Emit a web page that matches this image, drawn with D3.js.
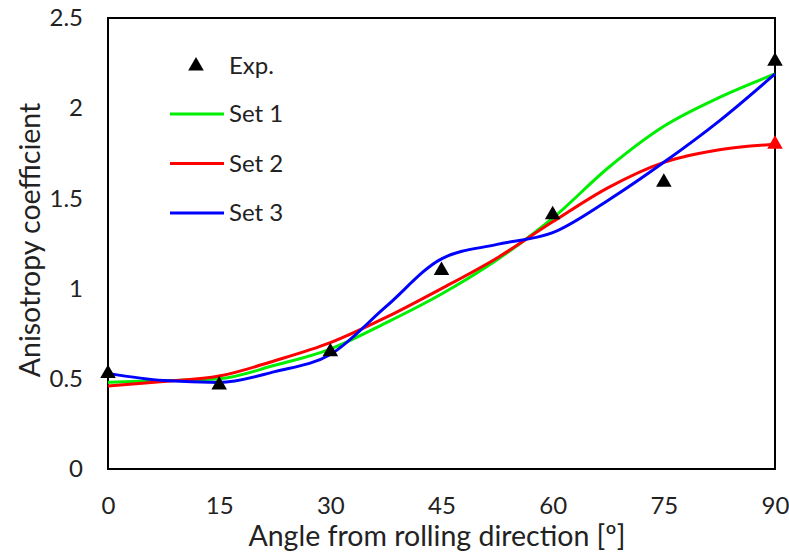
<!DOCTYPE html>
<html>
<head>
<meta charset="utf-8">
<script src="https://cdn.jsdelivr.net/npm/d3@7"></script>
<style>
  body { margin: 0; background: #fff; }
  svg text { font-family: Lato, "Open Sans", sans-serif; fill: #222; }
</style>
</head>
<body>
<div id="chart"></div>
<script>
// angles along the fitted curves (deg)
const angles = [0, 7.5, 15, 22.5, 30, 37.5, 45, 52.5, 60, 67.5, 75, 82.5, 90];
const set1 = [0.48, 0.49, 0.50, 0.575, 0.665, 0.81, 0.97, 1.16, 1.39, 1.67, 1.90, 2.06, 2.19];
const set2 = [0.46, 0.485, 0.515, 0.60, 0.70, 0.84, 1.00, 1.17, 1.37, 1.56, 1.70, 1.77, 1.80];
const set3 = [0.53, 0.49, 0.48, 0.54, 0.635, 0.90, 1.165, 1.245, 1.31, 1.49, 1.70, 1.93, 2.19];

// experimental points
const expAngles = [0, 15, 30, 45, 60, 75, 90];
const expValues = [0.53, 0.465, 0.65, 1.10, 1.41, 1.59, 2.26];

const xTicks = [0, 15, 30, 45, 60, 75, 90];
const yTicks = [0, 0.5, 1, 1.5, 2, 2.5];
const seriesNames = ["Set 1", "Set 2", "Set 3"];
const seriesColors = ["#00ee00", "#ff0000", "#0000ff"];

const width = 789, height = 552;
const margin = {top: 18, right: 14, bottom: 83, left: 108};
const innerW = width - margin.left - margin.right;
const innerH = height - margin.top - margin.bottom;

const svg = d3.select("#chart").append("svg")
    .attr("width", width)
    .attr("height", height);

const g = svg.append("g")
    .attr("transform", `translate(${margin.left},${margin.top})`);

const x = d3.scaleLinear().domain([0, 90]).range([0, innerW]);
const y = d3.scaleLinear().domain([0, 2.5]).range([innerH, 0]);

// axes: labels only, no tick marks
const xAxis = g.append("g")
    .attr("transform", `translate(0,${innerH})`)
    .call(d3.axisBottom(x).tickValues(xTicks).tickSize(0).tickPadding(28));
xAxis.select(".domain").remove();
xAxis.selectAll("text").attr("font-size", 24).attr("font-family", "Lato").attr("fill", "#222");

const yAxis = g.append("g")
    .call(d3.axisLeft(y).tickValues(yTicks).tickSize(0).tickPadding(25).tickFormat(d3.format("")));
yAxis.select(".domain").remove();
yAxis.selectAll("text").attr("font-size", 24).attr("font-family", "Lato").attr("fill", "#222");

// plot frame
g.append("rect")
    .attr("width", innerW)
    .attr("height", innerH)
    .attr("fill", "none")
    .attr("stroke", "#000")
    .attr("stroke-width", 2);

const line = d3.line()
    .x((d, i) => x(angles[i]))
    .y(d => y(d))
    .curve(d3.curveMonotoneX);

[set1, set2, set3].forEach((vals, i) => {
    g.append("path")
        .attr("d", line(vals))
        .attr("fill", "none")
        .attr("stroke", seriesColors[i])
        .attr("stroke-width", 3);
});

const tri = d3.symbol().type(d3.symbolTriangle).size(105);

// red end marker of Set 2
g.append("path")
    .attr("d", tri)
    .attr("fill", seriesColors[1])
    .attr("transform", `translate(${x(90)},${y(set2[set2.length - 1])})`);

g.selectAll(".exp")
    .data(expValues)
    .enter()
    .append("path")
    .attr("class", "exp")
    .attr("d", tri)
    .attr("fill", "#000")
    .attr("transform", (d, i) => `translate(${x(expAngles[i])},${y(d)})`);

// legend
const legend = svg.append("g").attr("transform", "translate(170,66)");
legend.append("path")
    .attr("d", tri)
    .attr("fill", "#000")
    .attr("transform", "translate(26,0)");
legend.append("text")
    .attr("x", 59)
    .attr("dy", "0.35em")
    .attr("font-size", 24)
    .text("Exp.");

seriesNames.forEach((name, i) => {
    const ly = 48 + i * 49.5;
    legend.append("line")
        .attr("x1", 0).attr("x2", 54)
        .attr("y1", ly).attr("y2", ly)
        .attr("stroke", seriesColors[i])
        .attr("stroke-width", 3);
    legend.append("text")
        .attr("x", 59)
        .attr("y", ly)
        .attr("dy", "0.35em")
        .attr("font-size", 24)
        .text(name);
});

// axis titles
svg.append("text")
    .attr("x", 437)
    .attr("y", 546)
    .attr("text-anchor", "middle")
    .attr("font-size", 28.5)
    .text("Angle from rolling direction [º]");

svg.append("text")
    .attr("transform", "translate(40,240) rotate(-90)")
    .attr("text-anchor", "middle")
    .attr("font-size", 28.5)
    .text("Anisotropy coefficient");
</script>
</body>
</html>
